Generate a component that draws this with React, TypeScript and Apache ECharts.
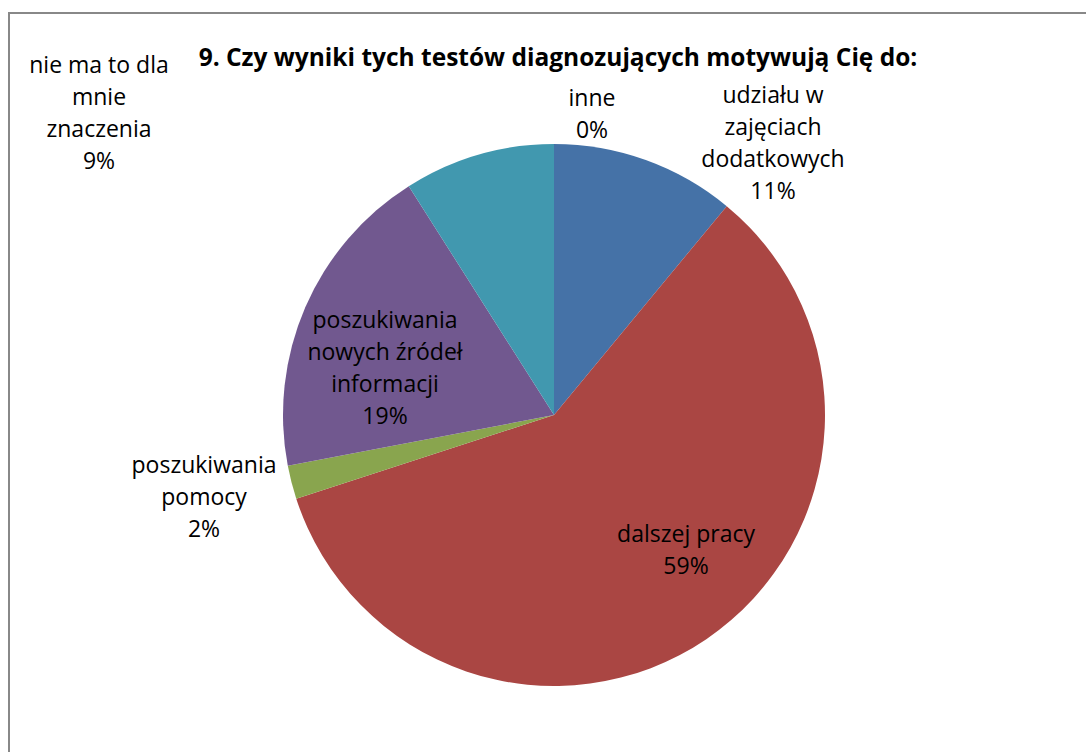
import React, { useEffect, useRef } from "react";
import * as echarts from "echarts";

const TITLE = "9. Czy wyniki tych testów diagnozujących motywują Cię do:";
const categories = [
  "udziału w\nzajęciach\ndodatkowych",
  "dalszej pracy",
  "poszukiwania\npomocy",
  "poszukiwania\nnowych źródeł\ninformacji",
  "nie ma to dla\nmnie\nznaczenia",
  "inne",
];
const values = [11, 59, 2, 19, 9, 0];
const colors = ["#4572A7", "#AA4643", "#89A54E", "#71588F", "#4198AF", "#DB843D"];
// label anchor (centre of the text block) per slice, in px
const labelPos: [number, number][] = [
  [773, 142],
  [686, 549],
  [204, 496],
  [385, 367],
  [99, 112],
  [592, 113],
];

const FONT = "'Open Sans', Lato, sans-serif";

export default function App() {
  const ref = useRef<HTMLDivElement>(null);
  useEffect(() => {
    if (!ref.current) return;
    const chart = echarts.init(ref.current, undefined, { renderer: "svg" });
    chart.setOption({
      animation: false,
      backgroundColor: "#ffffff",
      title: {
        text: TITLE,
        left: 553,
        top: 39,
        textAlign: "center",
        textStyle: { fontFamily: FONT, fontWeight: "bold", fontSize: 24.5, color: "#000" },
      },
      graphic: [
        {
          type: "rect",
          shape: { x: 9, y: 13, width: 1200, height: 900 },
          style: { fill: "none", stroke: "#888888", lineWidth: 2 },
          silent: true,
        },
      ],
      series: [
        {
          type: "pie",
          center: [554, 415],
          radius: 271,
          startAngle: 90,
          clockwise: true,
          avoidLabelOverlap: false,
          stillShowZeroSum: true,
          itemStyle: { borderWidth: 0 },
          emphasis: { disabled: true },
          data: categories.map((c, i) => ({
            name: c,
            value: values[i],
            itemStyle: { color: colors[i] },
          })),
          label: {
            show: true,
            position: "outside",
            formatter: (p: any) => `${p.name}\n${Math.round(p.percent)}%`,
            fontFamily: FONT,
            fontSize: 23,
            lineHeight: 32,
            color: "#000",
            align: "center",
          },
          labelLine: { show: false },
          labelLayout: (p: any) => ({
            x: labelPos[p.dataIndex][0],
            y: labelPos[p.dataIndex][1],
            align: "center",
            verticalAlign: "middle",
            hideOverlap: false,
          }),
        },
      ],
    });
    return () => chart.dispose();
  }, []);
  return (
    <div
      ref={ref}
      style={{ position: "fixed", left: 0, top: 0, width: 1086, height: 752 }}
    />
  );
}
